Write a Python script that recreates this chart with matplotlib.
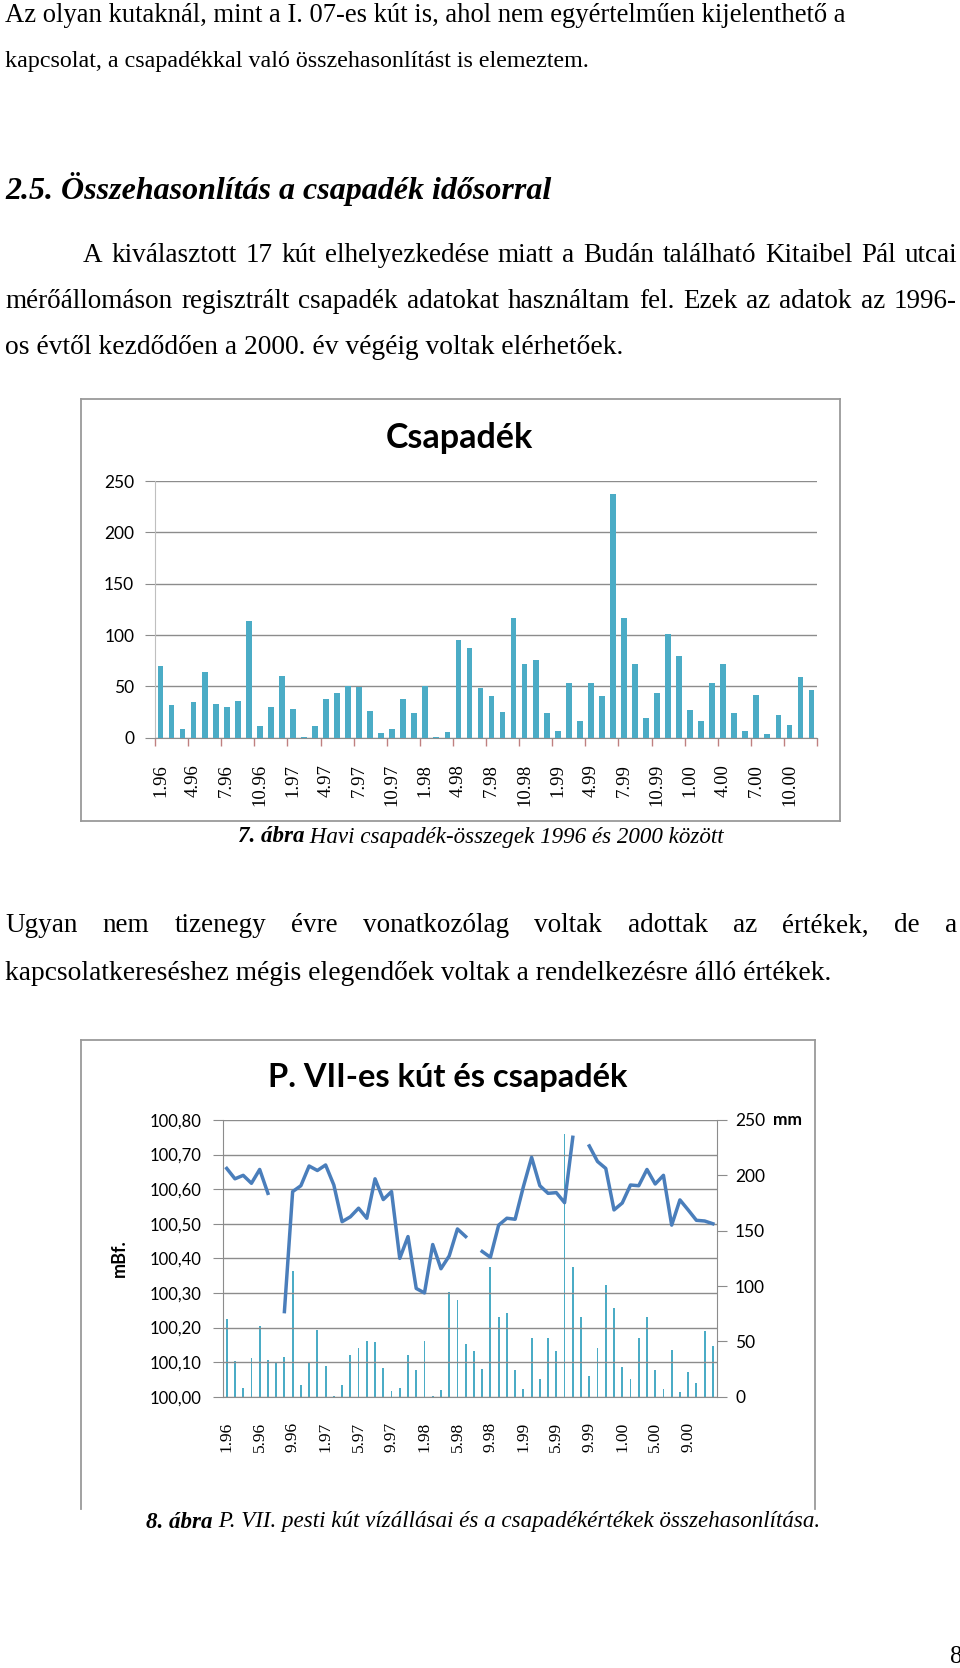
import numpy as np
import matplotlib
matplotlib.use('Agg')
import matplotlib.pyplot as plt
from matplotlib.lines import Line2D

# monthly precipitation (mm), 1996.01 - 2000.12, Kitaibel Pál utca
precip = [70, 32, 8, 35, 64, 33, 30, 36, 114, 11, 30, 60,
          28, 1, 11, 38, 44, 50, 49, 26, 5, 8, 38, 24,
          50, 1, 6, 95, 87, 48, 41, 25, 117, 72, 76, 24,
          7, 53, 16, 53, 41, 237, 117, 72, 19, 44, 101, 80,
          27, 16, 53, 72, 24, 7, 42, 4, 22, 12, 59, 46]

# water level of well P. VII (m Bf.), nan = missing month
nan = np.nan
level = [100.66, 100.63, 100.64, 100.617, 100.657, 100.588, nan, 100.246, 100.593, 100.61, 100.667, 100.654,
         100.67, 100.612, 100.506, 100.52, 100.545, 100.516, 100.63, 100.57, 100.593, 100.40, 100.463, 100.313,
         100.30, 100.44, 100.37, 100.407, 100.485, 100.463, nan, 100.42, 100.403, 100.496, 100.516, 100.513,
         100.607, 100.692, 100.61, 100.588, 100.59, 100.561, 100.75, nan, 100.725, 100.68, 100.66, 100.54,
         100.56, 100.612, 100.61, 100.657, 100.615, 100.64, 100.496, 100.569, 100.54, 100.51, 100.508, 100.50]

labels1 = ['1.96', '4.96', '7.96', '10.96', '1.97', '4.97', '7.97', '10.97', '1.98', '4.98',
           '7.98', '10.98', '1.99', '4.99', '7.99', '10.99', '1.00', '4.00', '7.00', '10.00']
labels2 = ['1.96', '5.96', '9.96', '1.97', '5.97', '9.97', '1.98', '5.98', '9.98', '1.99',
           '5.99', '9.99', '1.00', '5.00', '9.00']
yleft_ticks = [100.0, 100.1, 100.2, 100.3, 100.4, 100.5, 100.6, 100.7, 100.8]
yleft_labels = ['100,00', '100,10', '100,20', '100,30', '100,40', '100,50', '100,60', '100,70', '100,80']
yright_ticks = [0, 50, 100, 150, 200, 250]

W, H = 960, 1668
BAR = '#4bacc6'
LINE = '#4a7ebb'
GRID = '#8c8c8c'
SERIF = 'Liberation Serif'
SANS = 'Lato'

fig = plt.figure(figsize=(W / 100, H / 100), dpi=100)
rend = fig.canvas.get_renderer()

def fx(x):
    return x / W

def fy(y):
    return 1 - y / H

def axes_px(l, t, r, b):
    return fig.add_axes([l / W, 1 - b / H, (r - l) / W, (b - t) / H])

def text(x, y, s, **kw):
    kw.setdefault('family', SERIF)
    kw.setdefault('fontsize', 19.5)
    return fig.text(fx(x), fy(y), s, va='center', **kw)

def justify(words, y, x0, x1, **kw):
    ts = [text(0, y, w, **kw) for w in words]
    ws = [t.get_window_extent(rend).width for t in ts]
    gap = (x1 - x0 - sum(ws)) / (len(words) - 1)
    x = x0
    for t, w in zip(ts, ws):
        t.set_x(fx(x))
        x += w + gap

def caption(bold, rest, y, xc, size):
    t1 = text(0, y, bold, fontsize=size, fontweight='bold', style='italic')
    t2 = text(0, y, rest, fontsize=size, style='italic')
    w1 = t1.get_window_extent(rend).width
    w2 = t2.get_window_extent(rend).width
    x0 = xc - (w1 + w2) / 2
    t1.set_x(fx(x0))
    t2.set_x(fx(x0 + w1))

def frame(l, t, r, b, bottom=True):
    pts = [((l, t), (r, t)), ((l, t), (l, b)), ((r, t), (r, b))]
    if bottom:
        pts.append(((l, b), (r, b)))
    for (xa, ya), (xb, yb) in pts:
        fig.add_artist(Line2D([fx(xa), fx(xb)], [fy(ya), fy(yb)], color='#9a9a9a', lw=1.3))

# ---- body text ----
text(5, 16, 'Az olyan kutaknál, mint a I. 07-es kút is, ahol nem egyértelműen kijelenthető a', fontsize=19.2)
text(5, 62, 'kapcsolat, a csapadékkal való összehasonlítást is elemeztem.', fontsize=17.3)
text(5, 189, '2.5. Összehasonlítás a csapadék idősorral', fontsize=23,
     fontweight='bold', style='italic')
justify('A kiválasztott 17 kút elhelyezkedése miatt a Budán található Kitaibel Pál utcai'.split(),
        255, 83, 957)
justify('mérőállomáson regisztrált csapadék adatokat használtam fel. Ezek az adatok az 1996-'.split(),
        301, 5, 957)
text(5, 348, 'os évtől kezdődően a 2000. év végéig voltak elérhetőek.', fontsize=19.8)

caption('7. ábra', ' Havi csapadék-összegek 1996 és 2000 között', 837, 481, 16.6)

justify('Ugyan nem tizenegy évre vonatkozólag voltak adottak az értékek, de a'.split(),
        926, 5, 957)
text(5, 973, 'kapcsolatkereséshez mégis elegendőek voltak a rendelkezésre álló értékek.', fontsize=19.8)

caption('8. ábra', ' P. VII. pesti kút vízállásai és a csapadékértékek összehasonlítása.', 1522, 483, 16.6)
text(950, 1657, '8', fontsize=18)

# ---- chart 1: Csapadék ----
frame(81, 399, 840, 821)
x = np.arange(len(precip))
ax1 = axes_px(155, 481, 817, 737.7)
ax1.bar(x, precip, width=0.52, color=BAR, zorder=3)
ax1.set_xlim(-0.5, 59.5)
ax1.set_ylim(0, 250)
ax1.set_yticks(yright_ticks)
ax1.set_yticklabels([str(v) for v in yright_ticks], family=SANS, fontsize=12.5)
ax1.grid(axis='y', color=GRID, lw=1)
ax1.tick_params(axis='y', length=7, color=GRID, pad=8)
ax1.set_xticks(np.arange(0, 60, 3))
ax1.set_xticklabels(labels1, rotation=90, family=SERIF, fontsize=13.5)
ax1.set_xticks(np.arange(-0.5, 60, 3), minor=True)
ax1.tick_params(axis='x', which='major', length=0, pad=19)
ax1.tick_params(axis='x', which='minor', length=6, color='#c08080', width=1)
for s in ['top', 'right']:
    ax1.spines[s].set_visible(False)
ax1.spines['left'].set_color('#bfbfbf')
ax1.spines['bottom'].set_color(GRID)
text(432 * 960 / 902, 438, 'Csapadék', family=SANS, fontsize=24.5, fontweight='bold', ha='center')

# ---- chart 2: P. VII-es kút és csapadék ----
frame(81, 1040, 815, 1509, bottom=False)
ax2 = axes_px(222.6, 1120, 717, 1396.7)
ax2.set_xlim(-0.5, 59.5)
ax2.set_ylim(100.0, 100.8)
ax2.set_yticks(yleft_ticks)
ax2.set_yticklabels(yleft_labels, family=SANS, fontsize=12)
ax2.grid(axis='y', color=GRID, lw=1)
ax2.tick_params(axis='y', length=7, color=GRID, pad=8)
ax2.set_xticks(np.arange(0, 60, 4))
ax2.set_xticklabels(labels2, rotation=90, family=SERIF, fontsize=12.5)
ax2.tick_params(axis='x', length=0, pad=18)
for s in ['top', 'right']:
    ax2.spines[s].set_visible(False)
ax2.spines['left'].set_color(GRID)
ax2.spines['bottom'].set_color(GRID)
ax2.set_ylabel('mBf.', family=SANS, fontsize=13, fontweight='bold', labelpad=16)

ax3 = ax2.twinx()
ax3.bar(x, precip, width=0.22, color=BAR, zorder=2)
ax3.set_ylim(0, 250)
ax3.set_yticks(yright_ticks)
ax3.set_yticklabels([str(v) for v in yright_ticks], family=SANS, fontsize=12.5)
ax3.tick_params(axis='y', length=7, color=GRID, pad=6)
for s in ['top', 'left', 'bottom']:
    ax3.spines[s].set_visible(False)
ax3.spines['right'].set_color(GRID)

ax2.set_zorder(ax3.get_zorder() + 1)
ax2.patch.set_visible(False)
ax2.plot(x, level, color=LINE, lw=2.5, solid_joinstyle='round', zorder=4)
text(773, 1120, 'mm', family=SANS, fontsize=12.5, fontweight='bold')
text(421 * 960 / 902, 1078, 'P. VII-es kút és csapadék', family=SANS, fontsize=23.5, fontweight='bold', ha='center')

fig.savefig('out.png', dpi=100)
